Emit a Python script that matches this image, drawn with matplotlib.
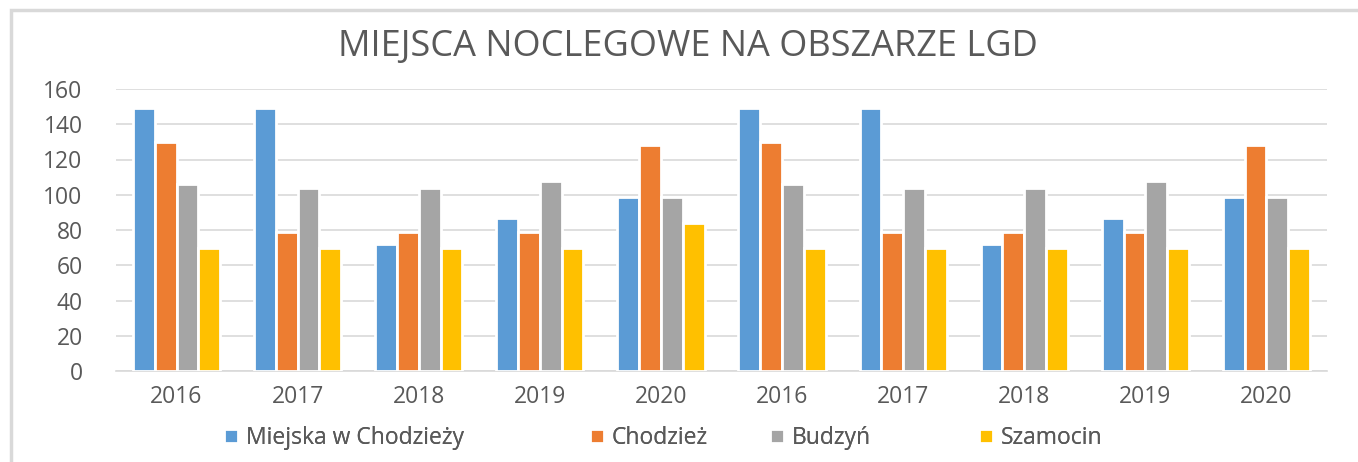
import matplotlib
matplotlib.use("Agg")
import matplotlib.pyplot as plt
from matplotlib.patches import Rectangle
import numpy as np

plt.rcParams['font.family'] = ['Open Sans', 'DejaVu Sans']

categories = ["2016", "2017", "2018", "2019", "2020", "2016", "2017", "2018", "2019", "2020"]
series_names = ["Miejska w Chodzieży", "Chodzież", "Budzyń", "Szamocin"]
miejska = [149, 149, 72, 87, 99, 149, 149, 72, 87, 99]
chodziez = [130, 79, 79, 79, 128, 130, 79, 79, 79, 128]
budzyn = [106, 104, 104, 108, 99, 106, 104, 104, 108, 99]
szamocin = [70, 70, 70, 70, 84, 70, 70, 70, 70, 70]
colors = ["#5B9BD5", "#ED7D31", "#A5A5A5", "#FFC000"]
title = "MIEJSCA NOCLEGOWE NA OBSZARZE LGD"
yticks = [0, 20, 40, 60, 80, 100, 120, 140, 160]

W, H = 1358, 462
fig = plt.figure(figsize=(W / 100, H / 100), dpi=100)
fig.patch.set_facecolor("white")

# outer chart frame (extends beyond the canvas right/bottom)
fig.patches.append(Rectangle((10.5 / W, -0.1), 1.2, (H - 10.5) / H + 0.1,
                             transform=fig.transFigure, fill=False,
                             edgecolor="#d9d9d9", linewidth=2.5))

ax = fig.add_axes([116 / W, (H - 371) / H, (1327 - 116) / W, (371 - 89) / H])
x = np.arange(len(categories))
data = [miejska, chodziez, budzyn, szamocin]
step = 0.18
handles = []
for i, (vals, c, name) in enumerate(zip(data, colors, series_names)):
    b = ax.bar(x + (i - 1.5) * step, vals, width=step, color=c, edgecolor="white",
               linewidth=2.0, label=name, zorder=3)
    handles.append(b)

ax.set_xlim(-0.5, len(categories) - 0.5)
ax.set_ylim(0, 160)
ax.set_yticks(yticks)
ax.set_xticks(x)
ax.set_xticklabels(categories)
ax.grid(axis="y", color="#d9d9d9", linewidth=1.2, zorder=0)
for s in ["top", "right", "left"]:
    ax.spines[s].set_visible(False)
ax.spines["bottom"].set_color("#d9d9d9")
ax.spines["bottom"].set_linewidth(1.2)
ax.tick_params(axis="both", length=0, colors="#595959", labelsize=16.5)
ax.tick_params(axis="y", pad=24)
ax.tick_params(axis="x", pad=10)

fig.text(688 / W, 1 - 47 / H, title, ha="center", va="center",
         fontsize=26, color="#595959")

leg_x = [224, 590, 770, 979]
for h, name, lx in zip(handles, series_names, leg_x):
    leg = fig.legend(handles=[h], labels=[name], loc="center left",
                     bbox_to_anchor=(lx / W, 1 - 438 / H), frameon=False,
                     fontsize=16.5, handlelength=0.6, handleheight=0.6,
                     handletextpad=0.35, borderpad=0, borderaxespad=0)
    for t in leg.get_texts():
        t.set_color("#595959")
    fig.add_artist(leg)

fig.savefig("out.png", dpi=100, facecolor="white")
